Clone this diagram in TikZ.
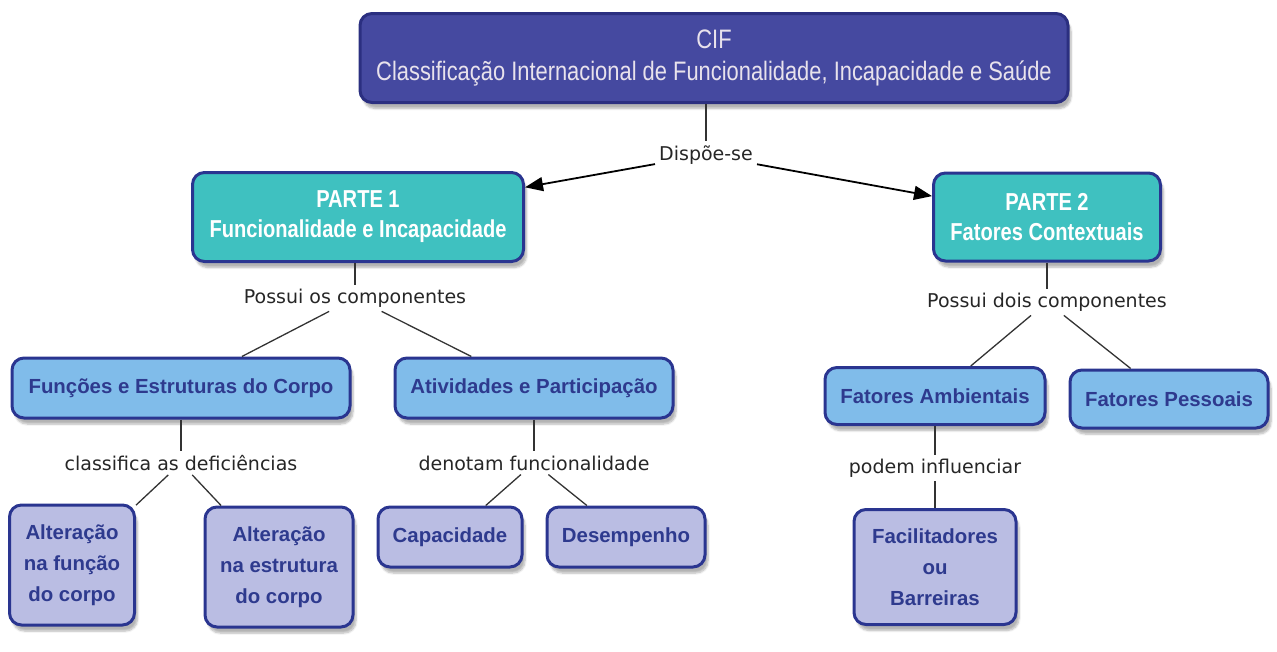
\documentclass[tikz,border=0pt]{standalone}
\usepackage{fontspec}
\setmainfont{Liberation Sans}
\newfontfamily\labfont{DejaVu Sans}
\newfontfamily\narrowfont{Liberation Sans}[FakeStretch=0.82]
\usetikzlibrary{arrows.meta,shadows.blur}
\definecolor{cifblue}{HTML}{4549A0}
\definecolor{cifborder}{HTML}{2B2F80}
\definecolor{teal1}{HTML}{3FC1C0}
\definecolor{boxborder}{HTML}{2A3590}
\definecolor{lightblue}{HTML}{80BCEA}
\definecolor{lavender}{HTML}{BABDE3}
\definecolor{darktext}{HTML}{2E3A8E}
\definecolor{lighttext}{HTML}{E8E2EC}
\tikzset{
  basebox/.style={rounded corners=12pt, line width=3pt, align=center, inner sep=0pt,
    blur shadow={shadow xshift=3pt, shadow yshift=-6pt, shadow blur steps=6, shadow opacity=30}},
  cifbox/.style={basebox, fill=cifblue, draw=cifborder, text=lighttext,
    font=\narrowfont\fontsize{26.7}{32}\selectfont},
  partbox/.style={basebox, fill=teal1, draw=boxborder, text=white,
    font=\narrowfont\bfseries\fontsize{24.5}{30}\selectfont},
  compbox/.style={basebox, fill=lightblue, draw=boxborder, text=darktext,
    font=\bfseries\fontsize{20.4}{24}\selectfont},
  leafbox/.style={basebox, fill=lavender, draw=boxborder, text=darktext,
    font=\bfseries\fontsize{20.4}{31}\selectfont},
  lab/.style={font=\labfont\fontsize{19}{22}\selectfont, inner sep=4pt, text=black!85},
  conn/.style={line width=1.3pt, draw=black!80},
  arr/.style={line width=1.8pt, draw=black, -{Triangle[length=18pt,width=14pt]}}
}
\begin{document}
\begin{tikzpicture}[x=1pt,y=-1pt]
\useasboundingbox (0,0) rectangle (1277,651);
% boxes
\node[cifbox, minimum width=708, minimum height=89] (cif) at (714,58) {CIF\\Classificação Internacional de Funcionalidade, Incapacidade e Saúde};
\node[partbox, minimum width=331, minimum height=89] (p1) at (358,217) {PARTE 1\\Funcionalidade e Incapacidade};
\node[partbox, minimum width=227, minimum height=88] (p2) at (1047,217) {PARTE 2\\Fatores Contextuais};
\node[compbox, minimum width=338, minimum height=60] (fec) at (181,388) {Funções e Estruturas do Corpo};
\node[compbox, minimum width=278, minimum height=60] (ap) at (534,388) {Atividades e Participação};
\node[compbox, minimum width=220, minimum height=57] (fa) at (935,396) {Fatores Ambientais};
\node[compbox, minimum width=198, minimum height=58] (fp) at (1169,399) {Fatores Pessoais};
\node[leafbox, minimum width=125, minimum height=120] (af) at (72,565) {Alteração\\na função\\do corpo};
\node[leafbox, minimum width=148, minimum height=120] (ae) at (279,567) {Alteração\\na estrutura\\do corpo};
\node[leafbox, minimum width=144, minimum height=60] (cap) at (450,537) {Capacidade};
\node[leafbox, minimum width=158, minimum height=60] (des) at (626,537) {Desempenho};
\node[leafbox, minimum width=162, minimum height=115] (fb) at (935,567) {Facilitadores\\ou\\Barreiras};
% labels
\node[lab] (dispo) at (706,155) {Dispõe-se};
\node[lab] (pos1) at (355,298) {Possui os componentes};
\node[lab] (pos2) at (1047,302) {Possui dois componentes};
\node[lab] (cla) at (181,463) {classifica as deficiências};
\node[lab] (den) at (534,463) {denotam funcionalidade};
\node[lab] (pod) at (935,468) {podem influenciar};
% connectors
\draw[conn] (cif.south -| dispo.north) -- (dispo.north);
\draw[arr] (dispo) -- (p1);
\draw[arr] (dispo) -- (p2);
\draw[conn] (p1.south -| pos1.north) -- (pos1.north);
\draw[conn] (pos1) -- (fec);
\draw[conn] (pos1) -- (ap);
\draw[conn] (p2.south) -- (pos2.north);
\draw[conn] (pos2) -- (fa);
\draw[conn] (pos2) -- (fp);
\draw[conn] (fec.south) -- (cla.north);
\draw[conn] (cla) -- (af);
\draw[conn] (cla) -- (ae);
\draw[conn] (ap.south) -- (den.north);
\draw[conn] (den) -- (cap);
\draw[conn] (den) -- (des);
\draw[conn] (fa.south) -- (pod.north);
\draw[conn] (pod.south) -- (fb.north);
\end{tikzpicture}
\end{document}
